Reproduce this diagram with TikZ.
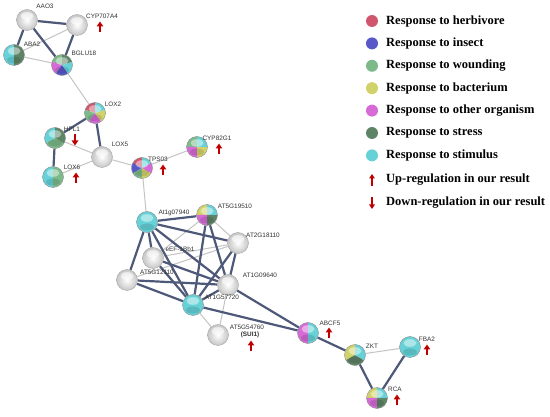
\documentclass[tikz,border=0pt]{standalone}
\usepackage{fontspec}
\setmainfont{Liberation Serif}
\newfontfamily\lblfont{Liberation Sans}
\usetikzlibrary{calc,arrows.meta}
\definecolor{cherb}{HTML}{D0566E}
\definecolor{cins}{HTML}{5858C8}
\definecolor{cwou}{HTML}{7DBA8A}
\definecolor{cbac}{HTML}{D2D26A}
\definecolor{coth}{HTML}{D66AD6}
\definecolor{cstr}{HTML}{5E8466}
\definecolor{cstim}{HTML}{66D2D8}
\definecolor{thickc}{HTML}{4E5878}
\definecolor{thinc}{HTML}{C4C4C4}
\definecolor{arrc}{HTML}{C00000}
\tikzset{
  pn/.style={circle, minimum size=21pt, inner sep=0pt},
  lbl/.style={font=\lblfont\fontsize{6.4}{7}\selectfont, text=black!80, inner sep=0.5pt},
  strong/.style={draw=thickc, line width=2.2pt},
  weak/.style={draw=thinc, line width=1pt},
  regarr/.style={draw=arrc, line width=2pt, -{Triangle[length=5pt,width=6.5pt]}},
  legtext/.style={font=\bfseries\fontsize{12.5}{13}\selectfont, anchor=west, inner sep=0pt},
}
\newcommand\pienode[2]{%
  \foreach \c [count=\i] in {#2} {\xdef\npie{\i}}%
  \foreach \c [count=\i from 0] in {#2} {%
    \pgfmathsetmacro\sa{90+\i*360/\npie}%
    \pgfmathsetmacro\ea{90+(\i+1)*360/\npie}%
    \fill[\c] (#1.center) -- ++(\sa:10.5pt) arc[start angle=\sa, end angle=\ea, radius=10.5pt] -- cycle;
  }%
  \fill[white, opacity=0.45] ($(#1.center)+(0,-4)$) ellipse (6.5pt and 3.8pt);
  \fill[black, opacity=0.12] ($(#1.center)+(0,5)$) ellipse (7pt and 3.5pt);
  \draw[black!45, line width=0.4pt] (#1.center) circle (10.5pt);
}
\newcommand\graynode[1]{%
  \shade[inner color=white, outer color=gray!45] (#1.center) circle (10.5pt);
  \fill[white, opacity=0.6] ($(#1.center)+(0,-4)$) ellipse (6.5pt and 3.8pt);
  \draw[black!35, line width=0.4pt] (#1.center) circle (10.5pt);
}
\newcommand\uparw[1]{\draw[regarr] ($(#1)+(0,5.5)$) -- ($(#1)+(0,-5.5)$);}
\newcommand\dnarw[1]{\draw[regarr] ($(#1)+(0,-5.5)$) -- ($(#1)+(0,5.5)$);}
\begin{document}
\begin{tikzpicture}[x=1pt,y=-1pt]
\useasboundingbox[fill=white] (0,0) rectangle (550,417);
% nodes
\node[pn] (aao3) at (27,20) {};
\node[pn] (cyp707) at (77,25) {};
\node[pn] (aba2) at (14,55) {};
\node[pn] (bglu) at (62,65) {};
\node[pn] (lox2) at (95,113) {};
\node[pn] (hpl1) at (55,138) {};
\node[pn] (lox5) at (102,157) {};
\node[pn] (lox6) at (53,177) {};
\node[pn] (tps) at (142,168) {};
\node[pn] (cyp82) at (197,147) {};
\node[pn] (at07) at (147,222) {};
\node[pn] (at19) at (207,215) {};
\node[pn] (at18) at (238,243) {};
\node[pn] (eef) at (153,258) {};
\node[pn] (at12) at (127,280) {};
\node[pn] (at09) at (228,285) {};
\node[pn] (at57) at (193,305) {};
\node[pn] (at54) at (218,335) {};
\node[pn] (abcf) at (308,333) {};
\node[pn] (zkt) at (355,355) {};
\node[pn] (fba2) at (410,347) {};
\node[pn] (rca) at (377,398) {};
% edges
\draw[weak] (cyp707) -- (aba2);
\draw[weak] (aba2) -- (bglu);
\draw[weak] (bglu) -- (lox2);
\draw[strong] (aao3) -- (cyp707);
\draw[strong] (aao3) -- (aba2);
\draw[strong] (aao3) -- (bglu);
\draw[strong] (cyp707) -- (bglu);
\draw[strong] (lox2) -- (hpl1);
\draw[strong] (lox2) -- (lox5);
\draw[strong] (hpl1) -- (lox6);
\draw[weak] (hpl1) -- (lox5);
\draw[weak] (lox6) -- (lox5);
\draw[weak] (lox5) -- (tps);
\draw[weak] (tps) -- (cyp82);
\draw[weak] (tps) -- (at07);
\draw[weak] (at19) -- (eef);
\draw[weak] (at19) -- (at18);
\draw[weak] (at18) -- (eef);
\draw[weak] (at18) -- (at12);
\draw[weak] (at57) -- (at54);
\draw[weak] (at09) -- (at54);
\draw[weak] (zkt) -- (fba2);
\draw[strong] (at07) -- (at19);
\draw[strong] (at07) -- (at18);
\draw[strong] (at07) -- (at12);
\draw[strong] (at07) -- (eef);
\draw[strong] (at07) -- (at09);
\draw[strong] (at07) -- (at57);
\draw[strong] (at19) -- (at09);
\draw[strong] (at19) -- (at57);
\draw[strong] (at18) -- (at09);
\draw[strong] (at18) -- (at57);
\draw[strong] (eef) -- (at09);
\draw[strong] (eef) -- (at57);
\draw[strong] (at12) -- (at09);
\draw[strong] (at12) -- (at57);
\draw[strong] (at09) -- (at57);
\draw[strong] (at09) -- (abcf);
\draw[strong] (at57) -- (abcf);
\draw[strong] (abcf) -- (zkt);
\draw[strong] (zkt) -- (rca);
\draw[strong] (fba2) -- (rca);
% node bodies
\graynode{aao3}
\graynode{cyp707}
\pienode{aba2}{cstim,cstr}
\pienode{bglu}{cwou,coth,cins,cstim,cstr}
\pienode{lox2}{cherb,cwou,coth,cbac,cstim}
\pienode{hpl1}{cstim,cwou,cstr}
\graynode{lox5}
\pienode{lox6}{cstim,cwou}
\pienode{tps}{cherb,cins,cwou,cbac,coth,cstim}
\pienode{cyp82}{cwou,coth,cbac,cstim}
\pienode{at07}{cstim}
\pienode{at19}{cbac,coth,cstr,cstim}
\graynode{at18}
\graynode{eef}
\graynode{at12}
\graynode{at09}
\pienode{at57}{cstim}
\graynode{at54}
\pienode{abcf}{coth,cstim}
\pienode{zkt}{cbac,cstr,cstim}
\pienode{fba2}{cstim}
\pienode{rca}{cbac,coth,cstr,cstim}
% labels
\node[lbl] (l-aao3) at (45,6) {AAO3};
\node[lbl] (l-cyp707) at (102,16) {CYP707A4};
\node[lbl] (l-aba2) at (32,44) {ABA2};
\node[lbl] (l-bglu) at (84,53) {BGLU18};
\node[lbl] (l-lox2) at (113,104) {LOX2};
\node[lbl] (l-hpl1) at (72,129) {HPL1};
\node[lbl] (l-lox5) at (120,144) {LOX5};
\node[lbl] (l-lox6) at (72,167) {LOX6};
\node[lbl] (l-tps) at (158,159) {TPS03};
\node[lbl] (l-cyp82) at (217,138) {CYP82G1};
\node[lbl] (l-at07) at (174,213) {At1g07940};
\node[lbl] (l-at19) at (235,206) {AT5G19510};
\node[lbl] (l-at18) at (263,235) {AT2G18110};
\node[lbl] (l-eef) at (180,249) {eEF-1Bb1};
\node[lbl] (l-at12) at (157,272) {AT5G12110};
\node[lbl] (l-at09) at (260,275) {AT1G09640};
\node[lbl] (l-at57) at (222,297) {AT1G57720};
\node[lbl] (l-at54) at (247,327) {AT5G54760};
\node[lbl,font=\lblfont\bfseries\fontsize{6.4}{7}\selectfont] (l-sui) at (250,335) {(SUI1)};
\node[lbl] (l-abcf) at (330,323) {ABCF5};
\node[lbl] (l-zkt) at (372,346) {ZKT};
\node[lbl] (l-fba2) at (427,339) {FBA2};
\node[lbl] (l-rca) at (395,389) {RCA};
% regulation arrows
\coordinate (a-cyp707) at (100,27);
\coordinate (a-hpl1) at (75,140);
\coordinate (a-lox6) at (76,178);
\coordinate (a-tps) at (163,170);
\coordinate (a-cyp82) at (219,149);
\coordinate (a-at54) at (251,346);
\coordinate (a-abcf) at (329,333);
\coordinate (a-fba2) at (427,350);
\coordinate (a-rca) at (397,400);
\uparw{a-cyp707}
\dnarw{a-hpl1}
\uparw{a-lox6}
\uparw{a-tps}
\uparw{a-cyp82}
\uparw{a-at54}
\uparw{a-abcf}
\uparw{a-fba2}
\uparw{a-rca}
% legend
\foreach \col/\txt [count=\k from 0] in {cherb/Response to herbivore, cins/Response to insect, cwou/Response to wounding, cbac/Response to bacterium, coth/Response to other organism, cstr/Response to stress, cstim/Response to stimulus} {
  \fill[\col] (372,{21+\k*22.4}) circle (6pt);
  \node[legtext] (leg\k) at (386,{21+\k*22.4}) {\txt};
}
\coordinate (lg-up) at (372,180);
\coordinate (lg-dn) at (372,203);
\draw[draw=arrc, line width=1.6pt, -{Triangle[length=4.5pt,width=5.5pt]}] ($(lg-up)+(0,6)$) -- ($(lg-up)+(0,-6)$);
\draw[draw=arrc, line width=1.6pt, -{Triangle[length=4.5pt,width=5.5pt]}] ($(lg-dn)+(0,-6)$) -- ($(lg-dn)+(0,6)$);
\node[legtext] (leg-up) at (386,180) {Up-regulation in our result};
\node[legtext] (leg-dn) at (386,203) {Down-regulation in our result};
\end{tikzpicture}
\end{document}
